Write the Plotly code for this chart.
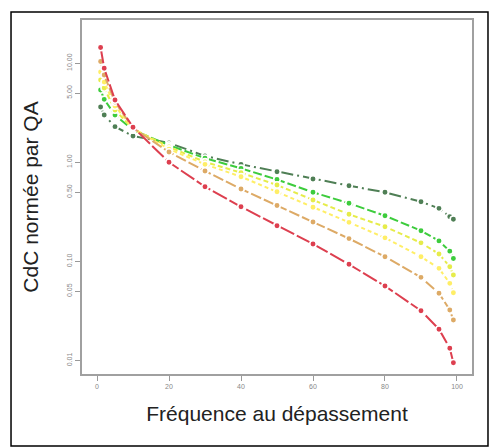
import plotly.graph_objects as go

freq = [1, 2, 5, 10, 20, 30, 40, 50, 60, 70, 80, 90, 95, 98, 99]

red = [14.4, 8.89, 4.25, 2.26, 1.00, 0.567, 0.356, 0.229, 0.150, 0.0935, 0.0565, 0.0318, 0.0207, 0.0133, 0.0095]
orange = [10.4, 7.6, 4.06, 2.22, 1.27, 0.817, 0.538, 0.367, 0.250, 0.170, 0.1115, 0.0691, 0.0477, 0.0323, 0.0256]
yellow2 = [8.15, 6.45, 3.70, 2.19, 1.36, 0.954, 0.716, 0.505, 0.352, 0.248, 0.173, 0.1115, 0.0851, 0.0601, 0.0483]
yellow1 = [6.77, 5.62, 3.37, 2.17, 1.43, 1.01, 0.785, 0.590, 0.417, 0.299, 0.224, 0.154, 0.119, 0.0885, 0.0729]
green = [5.37, 4.32, 3.0, 2.12, 1.49, 1.10, 0.869, 0.670, 0.498, 0.386, 0.289, 0.204, 0.161, 0.127, 0.107]
darkgreen = [3.61, 3.0, 2.29, 1.84, 1.57, 1.16, 0.954, 0.804, 0.678, 0.581, 0.498, 0.400, 0.343, 0.283, 0.266]

series = [
    (darkgreen, "#4F7F55", "12px,4px,2px,4px"),
    (green, "#3DCC3D", "9px,3px"),
    (yellow1, "#E6EC4A", "5px,3px"),
    (yellow2, "#FFEE66", "4px,3px"),
    (orange, "#DDAA66", "11px,3px"),
    (red, "#DD3F4F", "16px,3px"),
]

y_tickvals = [0.01, 0.05, 0.1, 0.5, 1, 5, 10]
y_ticktext = ["0.01", "0.05", "0.10", "0.50", "1.00", "5.00", "10.00"]
x_tickvals = [0, 20, 40, 60, 80, 100]

fig = go.Figure()
for vals, col, dash in series:
    fig.add_trace(go.Scatter(
        x=freq, y=vals, mode="lines+markers",
        line=dict(color=col, width=2, dash=dash),
        marker=dict(color=col, size=6.5, line=dict(color="white", width=1.6)),
        showlegend=False,
    ))

axis_font = dict(family="Liberation Sans, Arial, sans-serif", size=7, color="#888888")
title_font = dict(family="Liberation Sans, Arial, sans-serif", size=21, color="#222222")
fig.update_layout(
    width=490, height=447,
    margin=dict(l=82, r=18, t=20, b=73),
    paper_bgcolor="white", plot_bgcolor="white",
    font=dict(family="Liberation Sans, Arial, sans-serif"),
    xaxis=dict(
        range=[-4.17, 104.17], tickvals=x_tickvals, ticks="outside", ticklen=5,
        tickcolor="#999999", tickfont=axis_font, showgrid=False, zeroline=False,
        showline=True, linecolor="#A0A0A0", linewidth=1.5, mirror=True,
        title=dict(text="Fréquence au dépassement", font=title_font, standoff=17),
    ),
    yaxis=dict(
        type="log", range=[-2.136, 1.436], tickvals=y_tickvals, ticktext=y_ticktext,
        ticks="outside", ticklen=5, tickcolor="#999999", tickfont=axis_font, tickangle=-90,
        showgrid=False, zeroline=False,
        showline=True, linecolor="#A0A0A0", linewidth=1.5, mirror=True,
        title=dict(text="CdC normée par QA", font=title_font, standoff=22),
    ),
    shapes=[dict(type="rect", xref="paper", yref="paper",
                 x0=-0.182, x1=1.041, y0=-0.2034, y1=1.0226,
                 line=dict(color="black", width=1.5), fillcolor="rgba(0,0,0,0)", layer="below")],
)

fig.write_html("out.html")
